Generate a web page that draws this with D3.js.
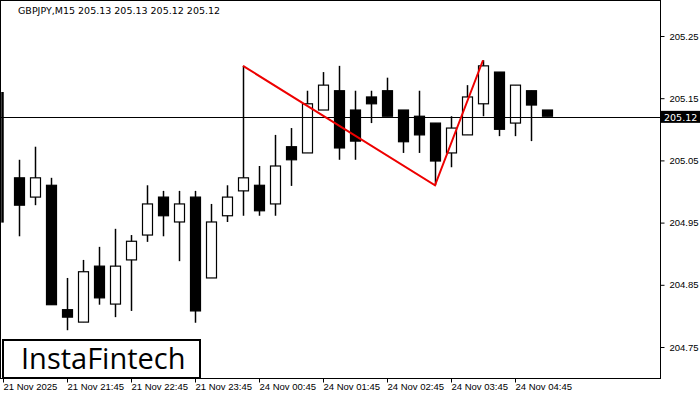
<!DOCTYPE html><html><head><meta charset="utf-8">
<script src="https://cdn.jsdelivr.net/npm/d3@7"></script>
<style>body{margin:0;background:#fff}svg{font-family:"DejaVu Sans",sans-serif}</style></head><body>
<svg id="c" width="700" height="400"></svg>
<script>
const opens  =[205.160,205.022,204.991,205.010,204.810,204.790,204.880,204.819,204.890,204.930,204.991,204.951,204.991,204.861,204.961,205.001,205.010,204.980,205.072,205.062,205.131,205.162,205.131,205.152,205.162,205.131,205.121,205.110,205.062,205.091,205.141,205.192,205.110,205.162,205.131];
const closes =[204.950,204.978,205.022,204.818,204.798,204.871,204.829,204.880,204.920,204.980,204.961,204.980,204.808,204.951,204.991,205.022,204.969,205.041,205.051,205.141,205.171,205.070,205.081,205.141,205.121,205.080,205.091,205.049,205.102,205.152,205.202,205.100,205.171,205.139,205.121];
const highs  =[205.160,205.051,205.072,205.022,204.861,204.890,204.911,204.940,204.930,205.010,205.001,205.001,205.001,204.980,205.010,205.202,205.041,205.091,205.102,205.162,205.192,205.202,205.162,205.162,205.183,205.131,205.162,205.110,205.121,205.171,205.211,205.192,205.171,205.162,205.131];
const lows   =[204.950,204.928,204.978,204.818,204.777,204.790,204.818,204.798,204.808,204.919,204.928,204.888,204.789,204.861,204.951,204.961,204.961,204.961,205.009,205.062,205.131,205.051,205.051,205.110,205.121,205.062,205.062,205.010,205.039,205.091,205.121,205.089,205.089,205.081,205.121];
const yTicks=[205.25,205.15,205.05,204.95,204.85,204.75];
const xLabels=["21 Nov 2025","21 Nov 21:45","21 Nov 22:45","21 Nov 23:45","24 Nov 00:45","24 Nov 01:45","24 Nov 02:45","24 Nov 03:45","24 Nov 04:45"];
const patIdx=[15,27,30], patPrice=[205.202,205.010,205.211];
const lastPrice=205.12;
const svg=d3.select("#c");
const W=660,H=378;
const x=d3.scaleLinear().domain([0,1]).range([3,19]);
const y=d3.scaleLinear().domain([204.75,205.25]).range([347,36]);
svg.append("rect").attr("x",0.5).attr("y",0.5).attr("width",W).attr("height",H).attr("fill","none").attr("stroke","#000");
const ya=svg.append("g").attr("transform",`translate(${W+0.5},0)`).call(d3.axisRight(y).tickValues(yTicks).tickSize(4).tickFormat(d3.format(".2f")));
ya.select(".domain").remove();
ya.selectAll("text").attr("font-size",9.5).attr("dx",2);
const xa=svg.append("g").attr("transform",`translate(0,${H+0.5})`).call(d3.axisBottom(x).tickValues(xLabels.map((d,i)=>i*4)).tickSize(4).tickFormat((d,i)=>xLabels[i]));
xa.select(".domain").remove();
xa.selectAll("text").attr("font-size",9.5).attr("text-anchor","start").attr("dx",0).attr("dy",4);
const g=svg.append("g");
// partial first candle at the left edge (body cut off by the frame)
svg.append("line").attr("x1",2.5).attr("x2",2.5).attr("y1",y(highs[0])).attr("y2",y(lows[0])).attr("stroke","#000").attr("stroke-width",2.5);
opens.forEach((o,i)=>{
  if(i===0) return;
  const cx=Math.round(x(i))+0.5, c=closes[i];
  g.append("line").attr("x1",cx).attr("x2",cx).attr("y1",y(highs[i])).attr("y2",y(lows[i])).attr("stroke","#000").attr("stroke-width",1.5);
  const top=y(Math.max(o,c)), bot=y(Math.min(o,c));
  g.append("rect").attr("x",cx-5).attr("y",top).attr("width",10).attr("height",Math.max(1,bot-top))
   .attr("fill",c<o?"#000":"#fff").attr("stroke","#000").attr("stroke-width",1.2);
});
svg.append("line").attr("x1",0).attr("x2",W).attr("y1",Math.round(y(lastPrice))+0.5).attr("y2",Math.round(y(lastPrice))+0.5).attr("stroke","#000");
svg.append("rect").attr("x",W+1).attr("y",y(lastPrice)-6).attr("width",39).attr("height",12).attr("fill","#000");
svg.append("text").attr("x",W+4).attr("y",y(lastPrice)+4).attr("fill","#fff").attr("font-size",9.5).text(lastPrice.toFixed(2));
svg.append("path").attr("d",d3.line()(patIdx.map((d,i)=>[x(d),y(patPrice[i])]))).attr("fill","none").attr("stroke","#e00").attr("stroke-width",2);
svg.append("text").attr("x",18).attr("y",14).attr("font-size",9.5).text("GBPJPY,M15  205.13 205.13 205.12 205.12");
svg.append("rect").attr("x",3).attr("y",340).attr("width",197).attr("height",38).attr("fill","#fff").attr("stroke","#000").attr("stroke-width",2);
svg.append("text").attr("x",21).attr("y",369).attr("font-size",29).attr("font-family","Open Sans, sans-serif").text("InstaFintech");
</script></body></html>
